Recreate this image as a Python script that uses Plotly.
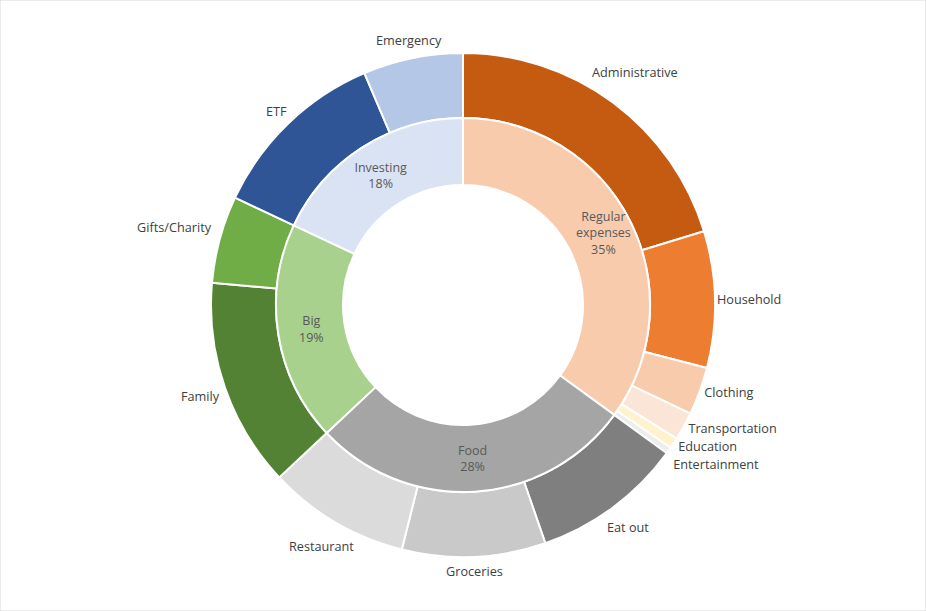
import math
import plotly.graph_objects as go

# inner ring (groups)
groups = ["Regular<br>expenses", "Food", "Big", "Investing"]
group_values = [35, 28, 19, 18]
group_colors = ["#F8CBAD", "#A5A5A5", "#A9D18E", "#DAE3F3"]

# outer ring (categories), clockwise from 12 o'clock
categories = ["Administrative", "Household", "Clothing", "Transportation",
              "Education", "Entertainment",
              "Eat out", "Groceries", "Restaurant",
              "Family", "Gifts/Charity",
              "ETF", "Emergency"]
category_values = [20.28, 8.75, 3.06, 1.81, 0.69, 0.42,
                   9.7, 9.2, 9.1,
                   13.4, 5.6,
                   11.6, 6.4]
category_colors = ["#C55A11", "#ED7D31", "#F8CBAD", "#FBE5D6", "#FFF2CC", "#EDEDED",
                   "#7F7F7F", "#C9C9C9", "#DBDBDB",
                   "#548235", "#70AD47",
                   "#2F5597", "#B4C7E7"]

W, H = 926, 611
cx, cy = 463, 305
r_out, r_mid, r_in = 252, 187, 120
FONT = "Open Sans"
OUT_SIZE = 12.7
IN_SIZE = 12.5


def dom(r):
    return dict(x=[(cx - r) / W, (cx + r) / W],
                y=[1 - (cy + r) / H, 1 - (cy - r) / H])


def to_paper(ang, r):
    return (cx + r * math.sin(ang)) / W, 1 - (cy - r * math.cos(ang)) / H


def mid_angles(vals):
    tot = sum(vals)
    out, acc = [], 0
    for v in vals:
        out.append(math.radians((acc + v / 2) / tot * 360))
        acc += v
    return out


fig = go.Figure()

# big slices get their label as an annotation just outside the ring,
# tiny ones are left to plotly's own outside placement (it spreads them)
big = [v >= 5 for v in category_values]
fig.add_trace(go.Pie(
    labels=categories, values=category_values,
    sort=False, direction="clockwise", rotation=0,
    hole=r_mid / r_out, domain=dom(r_out),
    marker=dict(colors=category_colors, line=dict(color="white", width=2)),
    textinfo="label", textposition=["none" if b else "outside" for b in big],
    textfont=dict(family=FONT, size=OUT_SIZE, color="#404040"),
    showlegend=False, hoverinfo="label+percent",
))

for name, ang, b in zip(categories, mid_angles(category_values), big):
    if not b:
        continue
    hw, hh = len(name) * 6.2 / 2, 7
    d = r_out + 6 + abs(math.sin(ang)) * hw + abs(math.cos(ang)) * hh
    x, y = to_paper(ang, d)
    fig.add_annotation(x=x, y=y, xref="paper", yref="paper", showarrow=False,
                       xanchor="center", yanchor="middle",
                       text=name, font=dict(family=FONT, size=OUT_SIZE, color="#404040"))

# inner ring: first label as an annotation at its mid-angle
inner_text = ["" if i == 0 else "%s<br>%d%%" % (g, v)
              for i, (g, v) in enumerate(zip(groups, group_values))]
fig.add_trace(go.Pie(
    labels=groups, values=group_values, text=inner_text,
    sort=False, direction="clockwise", rotation=0,
    hole=r_in / r_mid, domain=dom(r_mid),
    marker=dict(colors=group_colors, line=dict(color="white", width=2)),
    textinfo="text", textposition="inside",
    insidetextorientation="horizontal",
    textfont=dict(family=FONT, size=IN_SIZE, color="#595959"),
    showlegend=False, hoverinfo="label+percent",
))
ax, ay = to_paper(mid_angles(group_values)[0], (r_mid + r_in) / 2 + 4)
fig.add_annotation(x=ax, y=ay, xref="paper", yref="paper", showarrow=False,
                   xanchor="center", yanchor="middle",
                   text="%s<br>%d%%" % (groups[0], group_values[0]),
                   font=dict(family=FONT, size=IN_SIZE, color="#595959"))

fig.update_layout(
    width=W, height=H,
    margin=dict(l=0, r=0, t=0, b=0),
    paper_bgcolor="white",
    shapes=[dict(type="rect", xref="paper", yref="paper", x0=0, y0=0, x1=1, y1=1,
                 line=dict(color="#D9D9D9", width=1))],
)

fig.write_html("out.html", config={"displayModeBar": False}, post_script=(
    "document.body.style.margin='0';"
    "document.querySelectorAll('path.textline').forEach(function(e){e.remove();});"
))
